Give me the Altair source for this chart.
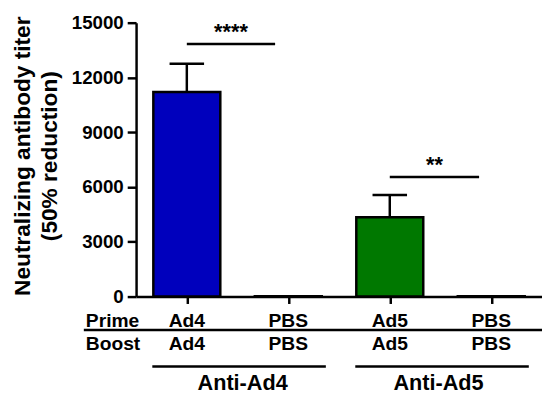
import altair as alt
import pandas as pd

# ---- data ----
pos = [0, 1, 2, 3]
prime = ["Ad4", "PBS", "Ad5", "PBS"]
boost = ["Ad4", "PBS", "Ad5", "PBS"]
titer = [11200, 25, 4350, 25]
err_upper = [12750, None, 5560, None]
fills = ["#0000bd", "#ffffff", "#007800", "#ffffff"]

sig_labels = ["****", "**"]
sig_from = [0, 2]
sig_to = [0.87, 2.88]
sig_y = [13830, 6545]

panel_labels = ["Anti-Ad4", "Anti-Ad5"]
panel_from = [-0.34, 1.66]
panel_to = [1.37, 3.37]
panel_center = [0.55, 2.48]

row_names = ["Prime", "Boost"]

FONT = "Liberation Sans"

bars_df = pd.DataFrame({"pos": pos, "titer": titer, "err": err_upper, "fill": fills,
                        "prime": prime, "boost": boost})
sig_df = pd.DataFrame({"label": sig_labels, "x1": sig_from, "x2": sig_to, "y": sig_y})
panel_df = pd.DataFrame({"label": panel_labels, "x1": panel_from, "x2": panel_to, "xc": panel_center})
divider_df = pd.DataFrame({"x1": [-1.015], "x2": [3.5]})
rows_df = pd.DataFrame({"name": row_names, "x": [-0.995, -0.995]})

xscale = alt.Scale(domain=[-0.5, 3.5], nice=False, zero=False)
yscale = alt.Scale(domain=[0, 15000], nice=False)

xaxis = alt.Axis(values=pos, labels=False, title=None, grid=False,
                 tickSize=7, tickWidth=2.5, domainWidth=2.5,
                 tickColor="black", domainColor="black")
yaxis = alt.Axis(values=[0, 3000, 6000, 9000, 12000, 15000], format="d",
                 title=["Neutralizing antibody titer", "(50% reduction)"],
                 grid=False, tickSize=9, tickWidth=2.5, domainWidth=2.5,
                 tickColor="black", domainColor="black",
                 labelFont=FONT, labelFontSize=19, labelFontWeight="bold",
                 labelColor="black", labelPadding=4,
                 titleFont=FONT, titleFontSize=23, titleFontWeight="bold",
                 titleColor="black", titleLineHeight=27,
                 titleAngle=270, titleAlign="center", titleBaseline="middle",
                 titleX=-115, titleY=135)


def X(field):
    return alt.X(field, scale=xscale, axis=xaxis)


def Y(field):
    return alt.Y(field, scale=yscale, axis=yaxis)


bars = alt.Chart(bars_df).transform_calculate(
    lo="datum.pos - 0.33", hi="datum.pos + 0.33"
).mark_bar(stroke="black", strokeWidth=2.5).encode(
    x=X("lo:Q"), x2="hi:Q",
    y=Y("titer:Q"), y2=alt.datum(0),
    fill=alt.Fill("fill:N", scale=None),
)

err_base = alt.Chart(bars_df).transform_filter("datum.err != null")
err_v = err_base.mark_rule(color="black", strokeWidth=2.5).encode(
    x=X("pos:Q"), y=Y("titer:Q"), y2="err:Q",
)
err_cap = err_base.transform_calculate(
    c1="datum.pos - 0.17", c2="datum.pos + 0.17"
).mark_rule(color="black", strokeWidth=2.5).encode(
    x=X("c1:Q"), x2="c2:Q", y=Y("err:Q"),
)

sig_line = alt.Chart(sig_df).mark_rule(color="black", strokeWidth=2.5).encode(
    x=X("x1:Q"), x2="x2:Q", y=Y("y:Q"),
)
sig_text = alt.Chart(sig_df).transform_calculate(
    xm="(datum.x1 + datum.x2) / 2"
).mark_text(font=FONT, fontSize=22, fontWeight="bold", baseline="alphabetic",
            align="center", dy=-5.5, color="black").encode(
    x=X("xm:Q"), y=Y("y:Q"), text="label:N",
)

row_style = dict(font=FONT, fontSize=19.5, fontWeight="bold", baseline="alphabetic",
                 color="black")
prime_text = alt.Chart(bars_df).mark_text(align="center", **row_style).encode(
    x=X("pos:Q"), y=alt.value(309), text="prime:N")
boost_text = alt.Chart(bars_df).mark_text(align="center", **row_style).encode(
    x=X("pos:Q"), y=alt.value(332), text="boost:N")
prime_name = alt.Chart(rows_df).transform_filter("datum.name == 'Prime'").mark_text(
    align="left", **row_style).encode(
    x=X("x:Q"), y=alt.value(309), text="name:N")
boost_name = alt.Chart(rows_df).transform_filter("datum.name == 'Boost'").mark_text(
    align="left", **row_style).encode(
    x=X("x:Q"), y=alt.value(332), text="name:N")

divider = alt.Chart(divider_df).mark_rule(color="black", strokeWidth=2.5).encode(
    x=X("x1:Q"), x2="x2:Q", y=alt.value(312))

panel_line = alt.Chart(panel_df).mark_rule(color="black", strokeWidth=2.5).encode(
    x=X("x1:Q"), x2="x2:Q", y=alt.value(349))
panel_text = alt.Chart(panel_df).mark_text(
    font=FONT, fontSize=22, fontWeight="bold", baseline="alphabetic",
    align="center", color="black").encode(
    x=X("xc:Q"), y=alt.value(373), text="label:N")

chart = alt.layer(
    bars, err_v, err_cap, sig_line, sig_text,
    prime_text, boost_text, prime_name, boost_name, divider, panel_line, panel_text,
).properties(
    width=412, height=278,
    padding={"left": 130, "top": 12, "right": 0, "bottom": 98},
    autosize=alt.AutoSizeParams(type="none"),
    background="white",
).configure_view(stroke=None)

chart.save("out.html", embed_options={"renderer": "svg", "actions": False})
